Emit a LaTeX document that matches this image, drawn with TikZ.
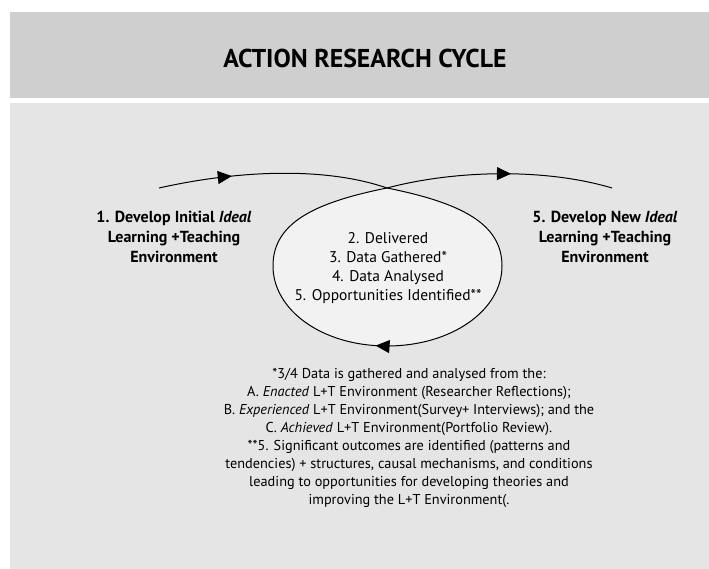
\documentclass[tikz,border=0pt]{standalone}
\usepackage{fontspec}
\setmainfont{PT Sans}
\usetikzlibrary{arrows.meta,decorations.markings}
\definecolor{headgray}{gray}{0.81}
\definecolor{panelgray}{gray}{0.90}
\definecolor{loopfill}{gray}{0.95}
\tikzset{
  heading/.style={font=\bfseries\fontsize{25.8}{30}\selectfont},
  stage/.style={align=center, inner sep=0pt, font=\bfseries\fontsize{16}{20}\selectfont},
  steps/.style={align=center, inner sep=0pt, font=\fontsize{15.5}{19}\selectfont},
  notes/.style={align=center, inner sep=0pt, font=\fontsize{14.3}{18}\selectfont},
  curve/.style={line width=1pt},
  midarrow/.style={postaction={decorate, decoration={markings,
    mark=at position #1 with {\arrow{Triangle[length=14pt,width=13pt]}}}}}
}
\begin{document}
\begin{tikzpicture}[x=1pt, y=-1pt]
\useasboundingbox (0,0) rectangle (709,569);
\fill[white] (0,0) rectangle (709,569);
\fill[headgray] (10,12) rectangle (709,98);
\fill[panelgray] (10,103) rectangle (709,569);
\node[heading] at (365,58) (title) {ACTION RESEARCH CYCLE};
\coordinate (start) at (159,188);
\coordinate (cross) at (387,188);
\coordinate (east) at (502,266);
\coordinate (south) at (387,346);
\coordinate (west) at (273,266);
\coordinate (finish) at (612,188);
\draw[curve, fill=loopfill, midarrow=0.52] (cross) .. controls (462,203) and (502,224) .. (east)
  .. controls (502,310) and (452,346) .. (south)
  .. controls (322,346) and (273,310) .. (west)
  .. controls (273,224) and (312,203) .. (cross);
\draw[curve, midarrow=0.32] (start) .. controls (230,172) and (320,165) .. (cross);
\draw[curve, midarrow=0.55] (cross) .. controls (455,170) and (545,168) .. (finish);
\node[stage] at (174,237) (initial) {1. Develop Initial \textit{Ideal}\\Learning +Teaching\\Environment};
\node[stage] at (605,237) (new) {5. Develop New \textit{Ideal}\\Learning +Teaching\\Environment};
\node[steps] at (388,268) (cycle) {2. Delivered\\3. Data Gathered*\\4. Data Analysed\\5. Opportunities Identified**};
\node[notes] at (409,438) (notes) {*3/4 Data is gathered and analysed from the:\\
A. \textit{Enacted} L+T Environment (Researcher Reflections);\\
B. \textit{Experienced} L+T Environment(Survey+ Interviews); and the\\
C. \textit{Achieved} L+T Environment(Portfolio Review).\\
**5. Significant outcomes are identified (patterns and\\
tendencies) + structures, causal mechanisms, and conditions\\
leading to opportunities for developing theories and\\
improving the L+T Environment(.};
\end{tikzpicture}
\end{document}
